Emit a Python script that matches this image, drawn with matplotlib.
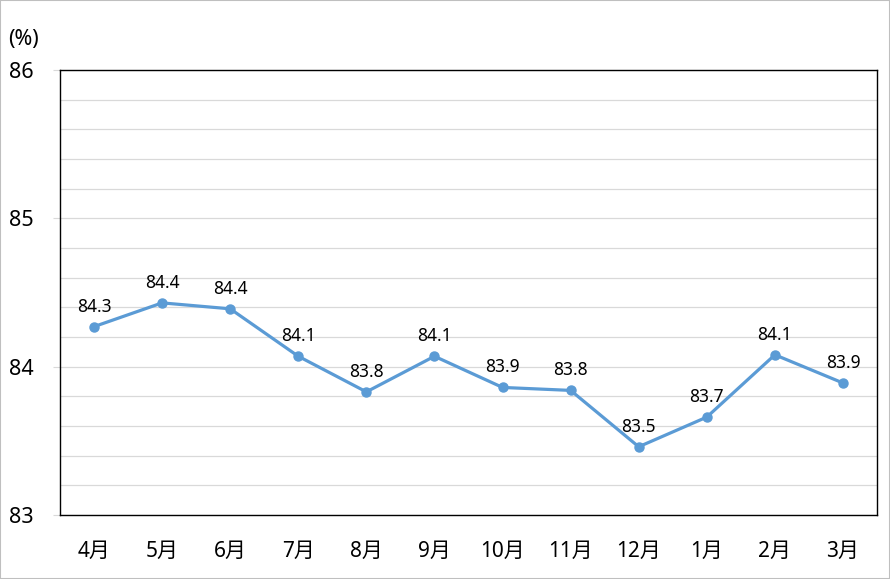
import matplotlib
matplotlib.use("Agg")
import matplotlib.pyplot as plt
from matplotlib.ticker import MultipleLocator
from matplotlib.patches import Rectangle

plt.rcParams['font.family'] = ['Noto Sans', 'Noto Sans CJK JP', 'DejaVu Sans']

months = ["4月", "5月", "6月", "7月", "8月", "9月", "10月", "11月", "12月", "1月", "2月", "3月"]
values = [84.27, 84.43, 84.39, 84.07, 83.83, 84.07, 83.86, 83.84, 83.46, 83.66, 84.08, 83.89]
labels = ["84.3", "84.4", "84.4", "84.1", "83.8", "84.1", "83.9", "83.8", "83.5", "83.7", "84.1", "83.9"]
yticks = [83, 84, 85, 86]

fig = plt.figure(figsize=(8.9, 5.79), dpi=100)
ax = fig.add_axes([60/890, 1-515/579, (877-60)/890, (515-70)/579])

x = list(range(len(months)))
ax.plot(x, values, color="#5B9BD5", lw=2.3, marker="o", ms=6.5, zorder=3)
for xi, v, lab in zip(x, values, labels):
    ax.annotate(lab, (xi, v), xytext=(0, 8), textcoords="offset points",
                ha="center", va="bottom", fontsize=12.5, color="black")

ax.set_xlim(-0.5, len(months) - 0.5)
ax.set_ylim(83, 86)
ax.set_yticks(yticks)
ax.set_yticklabels([str(t) for t in yticks], fontsize=15.5)
ax.yaxis.set_minor_locator(MultipleLocator(0.2))
ax.set_xticks(x)
ax.set_xticklabels(months, fontsize=15)
ax.tick_params(axis="x", length=0, pad=19)
ax.tick_params(axis="y", which="major", length=5, width=0.8, color="#d9d9d9", pad=14)
ax.tick_params(axis="y", which="minor", length=0)
ax.grid(axis="y", which="both", color="#d9d9d9", lw=0.9)
ax.set_axisbelow(True)
for s in ax.spines.values():
    s.set_color("black")
    s.set_linewidth(1.0)

fig.text(8/890, 1-40/579, "(%)", fontsize=15.5, ha="left", va="center")
fig.patches.append(Rectangle((0, 0), 1, 1, transform=fig.transFigure, fill=False,
                             edgecolor="#bfbfbf", lw=1.5))
fig.savefig("out.png", dpi=100)
